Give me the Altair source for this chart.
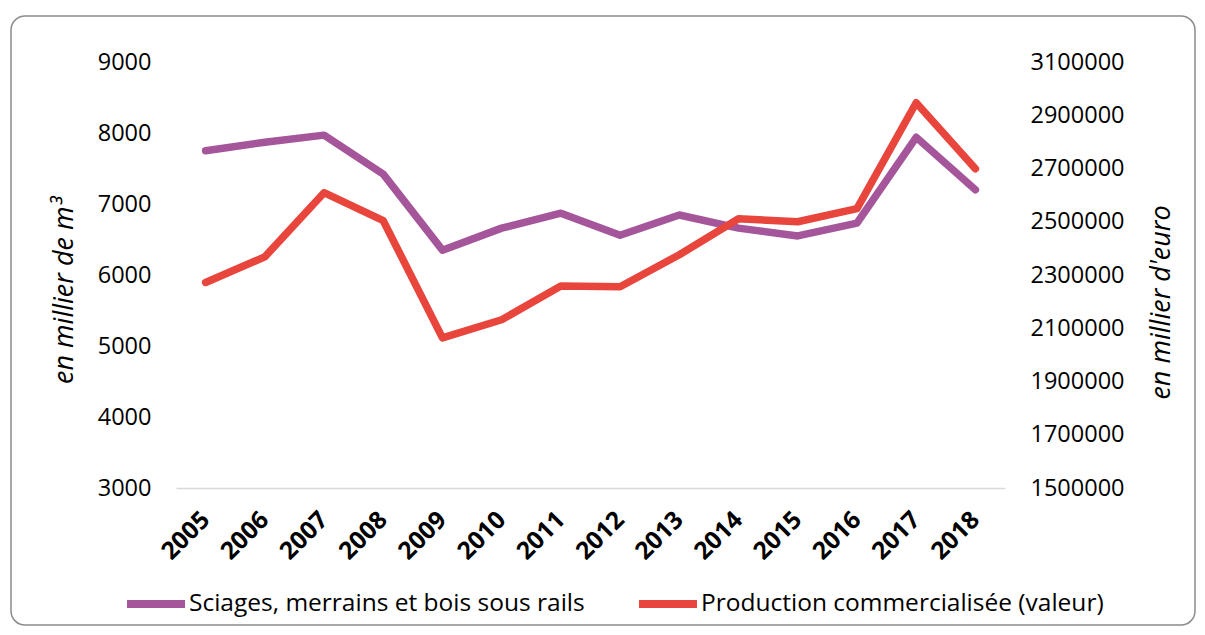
import altair as alt
import pandas as pd

# ---- data ----
annees = ["2005", "2006", "2007", "2008", "2009", "2010", "2011",
          "2012", "2013", "2014", "2015", "2016", "2017", "2018"]
sciages = [7750, 7870, 7970, 7420, 6350, 6660, 6870,
           6560, 6845, 6660, 6550, 6730, 7940, 7200]
production = [2272000, 2368000, 2609000, 2504000, 2064000, 2132000, 2259000,
              2256000, 2376000, 2511000, 2500000, 2549000, 2947000, 2699000]

serie_1 = "Sciages, merrains et bois sous rails"
serie_2 = "Production commercialisée (valeur)"
couleurs = ["#A5569A", "#E8453C"]

left_ticks = [3000, 4000, 5000, 6000, 7000, 8000, 9000]
right_ticks = [1500000, 1700000, 1900000, 2100000, 2300000, 2500000, 2700000, 2900000, 3100000]

df1 = pd.DataFrame({"annee": annees, "valeur": sciages, "serie": serie_1})
df2 = pd.DataFrame({"annee": annees, "valeur": production, "serie": serie_2})

FONT = "Open Sans"

x_enc = alt.X(
    "annee:O",
    scale=alt.Scale(padding=0.5),
    axis=alt.Axis(
        title=None,
        labelAngle=315,
        labelAlign="right",
        labelBaseline="middle",
        labelPadding=28,
        labelFont=FONT,
        labelFontSize=24.5,
        labelFontWeight="bold",
        labelColor="#000000",
        ticks=False,
        domain=True,
        domainColor="#D9D9D9",
        domainWidth=1.5,
        grid=False,
    ),
)

color_enc = alt.Color(
    "serie:N",
    scale=alt.Scale(domain=[serie_1, serie_2], range=couleurs),
    legend=alt.Legend(
        title=None,
        orient="none",
        legendX=-53,
        legendY=509,
        direction="horizontal",
        symbolType="stroke",
        symbolSize=3364,
        symbolStrokeWidth=8,
        labelFont=FONT,
        labelFontSize=24.5,
        labelColor="#000000",
        labelOffset=0,
        labelLimit=0,
        columnPadding=38,
        padding=0,
    ),
)

cadre = alt.Chart(pd.DataFrame({"k": [0]})).mark_rect(
    fill="white", fillOpacity=0, stroke="#8C8C8C", strokeWidth=1.5, cornerRadius=14
).encode(
    x=alt.value(-165), x2=alt.value(1019), y=alt.value(-46), y2=alt.value(563)
)

ligne1 = alt.Chart(df1).mark_line(
    strokeWidth=7.5, strokeCap="round", strokeJoin="round"
).encode(
    x=x_enc,
    y=alt.Y(
        "valeur:Q",
        scale=alt.Scale(domain=[3000, 9000], nice=False, zero=False),
        axis=alt.Axis(
            orient="left",
            values=left_ticks,
            format="d",
            title="en millier de m³",
            titleFont=FONT,
            titleFontSize=27,
            titleFontStyle="italic",
            titleFontWeight="normal",
            titleColor="#000000",
            titleAngle=270,
            titleAlign="center",
            titleBaseline="middle",
            titleX=-112,
            titleY=228,
            labelFont=FONT,
            labelFontSize=23.5,
            labelColor="#000000",
            labelPadding=25,
            ticks=False,
            domain=False,
            grid=False,
        ),
    ),
    color=color_enc,
)

ligne2 = alt.Chart(df2).mark_line(
    strokeWidth=7.5, strokeCap="round", strokeJoin="round"
).encode(
    x=x_enc,
    y=alt.Y(
        "valeur:Q",
        scale=alt.Scale(domain=[1500000, 3100000], nice=False, zero=False),
        axis=alt.Axis(
            orient="right",
            values=right_ticks,
            format="d",
            title="en millier d'euro",
            titleFont=FONT,
            titleFontSize=27,
            titleFontStyle="italic",
            titleFontWeight="normal",
            titleColor="#000000",
            titleAngle=270,
            titleAlign="center",
            titleBaseline="middle",
            titleX=156,
            titleY=240,
            labelFont=FONT,
            labelFontSize=23.5,
            labelColor="#000000",
            labelPadding=25,
            ticks=False,
            domain=False,
            grid=False,
        ),
    ),
    color=color_enc,
)

chart = (
    alt.layer(cadre, ligne1, ligne2)
    .resolve_scale(y="independent")
    .properties(
        width=829,
        height=426,
        autosize=alt.AutoSizeParams(type="none"),
        padding={"left": 168, "top": 54, "right": 192, "bottom": 139},
        background="white",
    )
    .configure_view(stroke=None)
)

chart.save("out.html", embed_options={"renderer": "svg", "actions": False})
